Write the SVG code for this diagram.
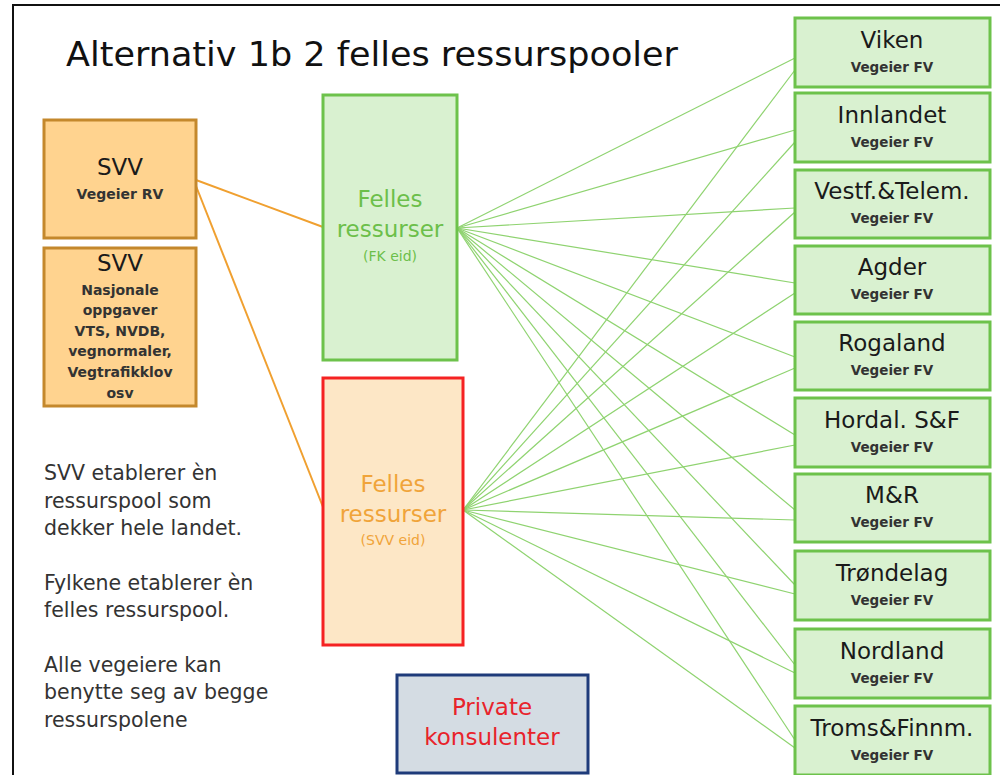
<svg xmlns="http://www.w3.org/2000/svg" width="1000" height="775" viewBox="0 0 1000 775">
<style>
text{font-family:"DejaVu Sans","Liberation Sans",sans-serif;text-anchor:middle}
.svvbox{fill:#FFD38F;stroke:#C4882C;stroke-width:3}
.gbox{fill:#D9F1D0;stroke:#6DC24B;stroke-width:3}
.name{font-size:23px;fill:#1a1a1a}
.sub{font-size:13.5px;font-weight:bold;fill:#333}
.sub2{font-size:14px;font-weight:bold;fill:#333}
.gl{stroke:#8FD370;stroke-width:1.2;fill:none}
.ol{stroke:#F0A030;stroke-width:2;fill:none}
.note{font-size:20.5px;fill:#333;text-anchor:start}
</style>
<rect x="0" y="0" width="1000" height="775" fill="#fff"/>
<path d="M13 775V5H1000" fill="none" stroke="#111" stroke-width="2"/>
<text x="66" y="66" style="text-anchor:start;font-size:33px;fill:#111" textLength="612" lengthAdjust="spacingAndGlyphs">Alternativ 1b 2 felles ressurspooler</text>

<g id="connectors">
<line class="ol" x1="196" y1="180" x2="323" y2="227"/>
<line class="ol" x1="196" y1="186" x2="323" y2="507"/>
<g class="gl">
<line x1="457" y1="228" x2="795" y2="58"/>
<line x1="457" y1="228" x2="795" y2="130"/>
<line x1="457" y1="228" x2="795" y2="208"/>
<line x1="457" y1="228" x2="795" y2="283"/>
<line x1="457" y1="228" x2="795" y2="357"/>
<line x1="457" y1="228" x2="795" y2="435"/>
<line x1="457" y1="228" x2="795" y2="510"/>
<line x1="457" y1="228" x2="795" y2="585"/>
<line x1="457" y1="228" x2="795" y2="665"/>
<line x1="457" y1="228" x2="795" y2="740"/>
<line x1="463" y1="510" x2="795" y2="70"/>
<line x1="463" y1="510" x2="795" y2="142"/>
<line x1="463" y1="510" x2="795" y2="212"/>
<line x1="463" y1="510" x2="795" y2="293"/>
<line x1="463" y1="510" x2="795" y2="368"/>
<line x1="463" y1="510" x2="795" y2="445"/>
<line x1="463" y1="510" x2="795" y2="520"/>
<line x1="463" y1="510" x2="795" y2="594"/>
<line x1="463" y1="510" x2="795" y2="673"/>
<line x1="463" y1="510" x2="795" y2="748"/>
</g>
</g>

<g id="svv-rv">
<rect class="svvbox" x="44" y="120" width="152" height="118"/>
<text x="120" y="175" class="name">SVV</text>
<text x="120" y="199" class="sub2">Vegeier RV</text>
</g>
<g id="svv-nasjonale">
<rect class="svvbox" x="44" y="248" width="152" height="158"/>
<text x="120" y="271" class="name">SVV</text>
<text x="120" y="295" class="sub2">Nasjonale</text>
<text x="120" y="315" class="sub2">oppgaver</text>
<text x="120" y="336" class="sub2">VTS, NVDB,</text>
<text x="120" y="356" class="sub2">vegnormaler,</text>
<text x="120" y="377" class="sub2">Vegtrafikklov</text>
<text x="120" y="398" class="sub2">osv</text>
</g>

<g id="felles-fk">
<rect class="gbox" x="323" y="95" width="134" height="265"/>
<text x="390" y="207" style="font-size:23px;fill:#6CBF4A">Felles</text>
<text x="390" y="237" style="font-size:23px;fill:#6CBF4A">ressurser</text>
<text x="390" y="261" style="font-size:14px;fill:#6CBF4A">(FK eid)</text>
</g>
<g id="felles-svv">
<rect x="323" y="378" width="140" height="267" fill="#FDE7C6" stroke="#F52222" stroke-width="3"/>
<text x="393" y="492" style="font-size:23px;fill:#F0A43A">Felles</text>
<text x="393" y="522" style="font-size:23px;fill:#F0A43A">ressurser</text>
<text x="393" y="545" style="font-size:14px;fill:#F0A43A">(SVV eid)</text>
</g>
<g id="private">
<rect x="397" y="675" width="191" height="98" fill="#D4DCE3" stroke="#1E3B7A" stroke-width="3"/>
<text x="492" y="715" style="font-size:23px;fill:#E8232B">Private</text>
<text x="492" y="745" style="font-size:23px;fill:#E8232B">konsulenter</text>
</g>

<g id="viken"><rect class="gbox" x="795" y="18" width="195" height="69"/><text x="892" y="48" class="name">Viken</text><text x="892" y="72" class="sub">Vegeier FV</text></g>
<g id="innlandet"><rect class="gbox" x="795" y="93" width="195" height="69"/><text x="892" y="123" class="name">Innlandet</text><text x="892" y="147" class="sub">Vegeier FV</text></g>
<g id="vestfold-telemark"><rect class="gbox" x="795" y="170" width="195" height="68"/><text x="892" y="199" class="name">Vestf.&amp;Telem.</text><text x="892" y="223" class="sub">Vegeier FV</text></g>
<g id="agder"><rect class="gbox" x="795" y="246" width="195" height="68"/><text x="892" y="275" class="name">Agder</text><text x="892" y="299" class="sub">Vegeier FV</text></g>
<g id="rogaland"><rect class="gbox" x="795" y="322" width="195" height="68"/><text x="892" y="351" class="name">Rogaland</text><text x="892" y="375" class="sub">Vegeier FV</text></g>
<g id="hordaland"><rect class="gbox" x="795" y="398" width="195" height="69"/><text x="892" y="428" class="name">Hordal. S&amp;F</text><text x="892" y="452" class="sub">Vegeier FV</text></g>
<g id="more-romsdal"><rect class="gbox" x="795" y="474" width="195" height="68"/><text x="892" y="503" class="name">M&amp;R</text><text x="892" y="527" class="sub">Vegeier FV</text></g>
<g id="trondelag"><rect class="gbox" x="795" y="551" width="195" height="69"/><text x="892" y="581" class="name">Trøndelag</text><text x="892" y="605" class="sub">Vegeier FV</text></g>
<g id="nordland"><rect class="gbox" x="795" y="629" width="195" height="69"/><text x="892" y="659" class="name">Nordland</text><text x="892" y="683" class="sub">Vegeier FV</text></g>
<g id="troms-finnmark"><rect class="gbox" x="795" y="706" width="195" height="69"/><text x="892" y="736" class="name">Troms&amp;Finnm.</text><text x="892" y="760" class="sub">Vegeier FV</text></g>

<g id="notes">
<text class="note" x="44" y="480">SVV etablerer èn</text>
<text class="note" x="44" y="508">ressurspool som</text>
<text class="note" x="44" y="535">dekker hele landet.</text>
<text class="note" x="44" y="590">Fylkene etablerer èn</text>
<text class="note" x="44" y="617">felles ressurspool.</text>
<text class="note" x="44" y="672">Alle vegeiere kan</text>
<text class="note" x="44" y="699">benytte seg av begge</text>
<text class="note" x="44" y="727">ressurspolene</text>
</g>
</svg>
